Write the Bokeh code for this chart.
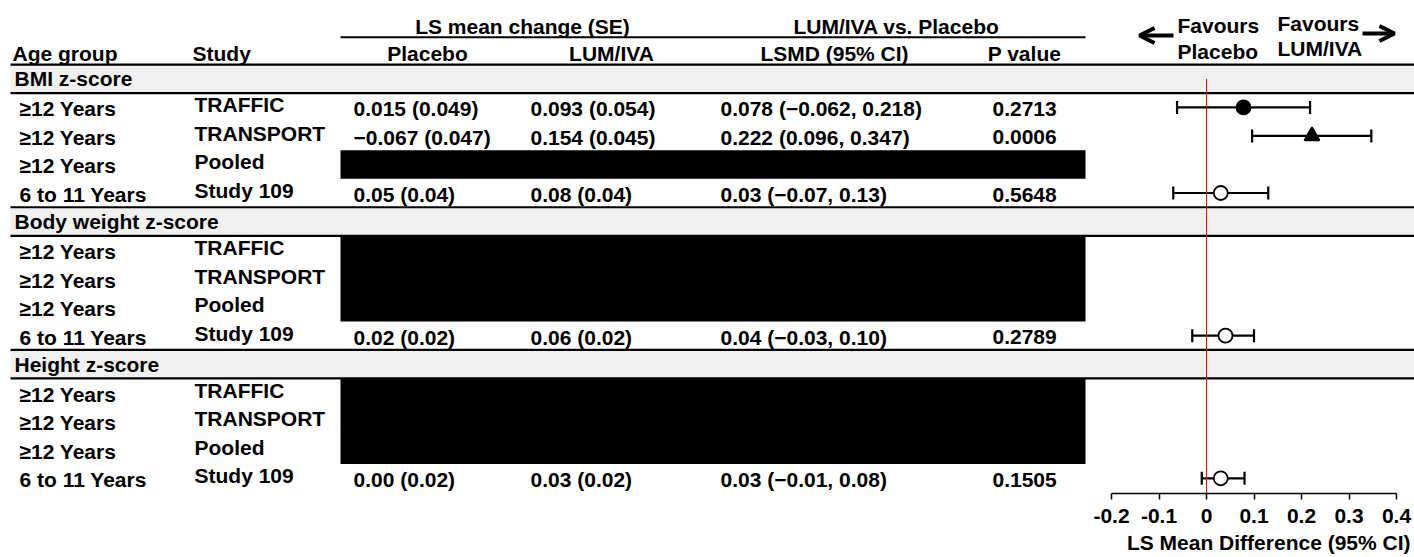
from math import pi
from bokeh.plotting import figure
from bokeh.models import Range1d, LinearAxis, FixedTicker, Arrow, OpenHead, ColumnDataSource, Title
from bokeh.core.properties import value
from bokeh.embed import file_html
from bokeh.resources import INLINE

# ---------------- data ----------------
sections = ["BMI z-score", "Body weight z-score", "Height z-score"]
age_groups = ["≥12 Years", "≥12 Years", "≥12 Years", "6 to 11 Years"]
studies = ["TRAFFIC", "TRANSPORT", "Pooled", "Study 109"]

placebo = [["0.015 (0.049)", "−0.067 (0.047)", "", "0.05 (0.04)"],
           ["", "", "", "0.02 (0.02)"],
           ["", "", "", "0.00 (0.02)"]]
lumiva = [["0.093 (0.054)", "0.154 (0.045)", "", "0.08 (0.04)"],
          ["", "", "", "0.06 (0.02)"],
          ["", "", "", "0.03 (0.02)"]]
lsmd_text = [["0.078 (−0.062, 0.218)", "0.222 (0.096, 0.347)", "", "0.03 (−0.07, 0.13)"],
             ["", "", "", "0.04 (−0.03, 0.10)"],
             ["", "", "", "0.03 (−0.01, 0.08)"]]
p_values = [["0.2713", "0.0006", "", "0.5648"],
            ["", "", "", "0.2789"],
            ["", "", "", "0.1505"]]
redacted = [[False, False, True, False],
            [True, True, True, False],
            [True, True, True, False]]

# forest plot points
fp_section = [0, 0, 0, 1, 2]
fp_row = [0, 1, 3, 3, 3]
fp_lsmd = [0.078, 0.222, 0.03, 0.04, 0.03]
fp_lo = [-0.062, 0.096, -0.07, -0.03, -0.01]
fp_hi = [0.218, 0.347, 0.13, 0.10, 0.08]

axis_ticks = [-0.2, -0.1, 0, 0.1, 0.2, 0.3, 0.4]
axis_tick_labels = ["-0.2", "-0.1", "0", "0.1", "0.2", "0.3", "0.4"]
axis_title = "LS Mean Difference (95% CI)"

# ---------------- style / layout ----------------
study_style = {"TRAFFIC": ("circle", "black"),
               "TRANSPORT": ("triangle", "black"),
               "Study 109": ("circle", "white")}

FONT = value("Liberation Sans")
FS = "21px"
W, H = 1414, 557
X_LEFT, X_RIGHT = 0, 1414
Y_TOP, Y_BOT = 0, 492
U = 28.47
Y0 = 64.0
BAND_X = 10
FX0, FPX = 1206.0, 475.0   # zero line position and px per unit (layout)
TY = -7                    # text vertical correction

COL_AGE, COL_STUDY = 19, 194
COL_PLA, COL_LUM, COL_LSMD, COL_P = 353, 530, 720, 992
BOX_L, BOX_R = 340, 1085


def sec_top(s):
    return Y0 + s * 5 * U


def row_center(s, r):
    return sec_top(s) + (r + 1.5) * U


p = figure(width=W, height=H,
           x_range=Range1d(X_LEFT, X_RIGHT), y_range=Range1d(Y_BOT, Y_TOP),
           x_axis_type=None, y_axis_type=None,
           toolbar_location=None, output_backend="svg",
           min_border_left=0, min_border_right=0, min_border_top=0, min_border_bottom=0)
p.outline_line_color = None
p.background_fill_color = "white"
p.extra_x_ranges = {"forest": Range1d((X_LEFT - FX0) / FPX, (X_RIGHT - FX0) / FPX)}

# bands
bt, bb = [], []
for s in range(len(sections)):
    bt.append(sec_top(s))
    bb.append(sec_top(s) + U)
p.quad(left=BAND_X, right=X_RIGHT, top=bt, bottom=bb, fill_color="#f0f0f0", line_color=None)
p.segment(x0=[BAND_X] * 6, x1=[X_RIGHT] * 6, y0=bt + bb, y1=bt + bb, line_color="black", line_width=2.2)

# header rule over grouped columns
p.segment(x0=[BOX_L], x1=[BOX_R], y0=[36.7], y1=[36.7], line_color="black", line_width=2)

# redaction boxes (merge contiguous rows)
ql, qr, qt, qb = [], [], [], []
for s in range(len(sections)):
    r = 0
    while r < 4:
        if redacted[s][r]:
            start = r
            while r < 4 and redacted[s][r]:
                r += 1
            ql.append(BOX_L); qr.append(BOX_R)
            qt.append(sec_top(s) + (start + 1) * U)
            qb.append(sec_top(s) + (r + 1) * U)
        else:
            r += 1
p.quad(left=ql, right=qr, top=qt, bottom=qb, fill_color="black", line_color=None)

# forest plot
fy = [row_center(s, r) for s, r in zip(fp_section, fp_row)]
p.segment(x0=fp_lo, x1=fp_hi, y0=fy, y1=fy, line_color="black", line_width=2.2, x_range_name="forest")
p.scatter(x=fp_lo + fp_hi, y=fy + fy, marker="dash", angle=pi / 2, size=13,
          line_color="black", line_width=2.2, x_range_name="forest")
# zero line
p.segment(x0=[0], x1=[0], y0=[sec_top(0) + U / 2], y1=[Y_BOT], line_color="#ff0000", line_width=1,
          x_range_name="forest")
mk = [study_style[studies[r]][0] for r in fp_row]
fc = [study_style[studies[r]][1] for r in fp_row]
p.scatter(x=fp_lsmd, y=fy, marker=mk, fill_color=fc, size=[14 if m == "circle" else 15 for m in mk],
          line_color="black", line_width=1.8, x_range_name="forest")

# ---------------- texts ----------------
def txt(xs, ys, ts, align="left"):
    src = ColumnDataSource(dict(x=xs, y=[v + TY for v in ys], t=ts))
    p.text(x="x", y="y", text="t", source=src, text_font=FONT, text_font_style="bold",
           text_font_size=FS, text_align=align, text_baseline="alphabetic", text_color="black")

# top headers
txt([522, 896], [33, 33], ["LS mean change (SE)", "LUM/IVA vs. Placebo"], "center")
txt([12, 192], [60, 60], ["Age group", "Study"], "left")
txt([427, 611, 834, 1024], [60] * 4, ["Placebo", "LUM/IVA", "LSMD (95% CI)", "P value"], "center")
# favours
txt([1177, 1177, 1277, 1277], [32, 58, 30, 55], ["Favours", "Placebo", "Favours", "LUM/IVA"], "left")
p.add_layout(Arrow(x_start=1173, y_start=35, x_end=1139, y_end=35, line_width=4,
                   end=OpenHead(size=15, line_width=4, line_color="black")))
p.add_layout(Arrow(x_start=1362, y_start=33, x_end=1394, y_end=33, line_width=4,
                   end=OpenHead(size=15, line_width=4, line_color="black")))

# section labels
txt([14] * 3, [sec_top(s) + U / 2 + 7 for s in range(3)], sections)

ax, ay, sx_, sy_ = [], [], [], []
dx, dy, dt = [], [], []
for s in range(3):
    for r in range(4):
        c = row_center(s, r)
        ax.append(COL_AGE); ay.append(c + 8.5)
        sx_.append(COL_STUDY); sy_.append(c + 4.5)
        if not redacted[s][r]:
            for col, arr in ((COL_PLA, placebo), (COL_LUM, lumiva), (COL_LSMD, lsmd_text), (COL_P, p_values)):
                if arr[s][r]:
                    dx.append(col); dy.append(c + 8.5); dt.append(arr[s][r])
txt(ax, ay, age_groups * 3)
txt(sx_, sy_, studies * 3)
txt(dx, dy, dt)

# forest axis
axis = LinearAxis(x_range_name="forest", ticker=FixedTicker(ticks=axis_ticks), bounds=(-0.2, 0.4))
axis.major_label_overrides = {t: l for t, l in zip(axis_ticks, axis_tick_labels)}
axis.minor_tick_line_color = None
axis.major_tick_in = 0
axis.major_tick_out = 6
axis.axis_line_color = "black"
axis.axis_line_width = 1.5
axis.major_tick_line_color = "black"
axis.major_tick_line_width = 1.5
axis.major_label_standoff = 9
axis.major_label_text_font = "Liberation Sans"
axis.major_label_text_font_style = "bold"
axis.major_label_text_font_size = FS
axis.major_label_text_color = "black"
p.add_layout(axis, "below")

p.add_layout(Title(text=axis_title, align="right", offset=4, standoff=7,
                   text_font="Liberation Sans", text_font_style="bold", text_font_size=FS,
                   text_color="black"), "below")

open("out.html", "w").write(file_html(p, INLINE))
